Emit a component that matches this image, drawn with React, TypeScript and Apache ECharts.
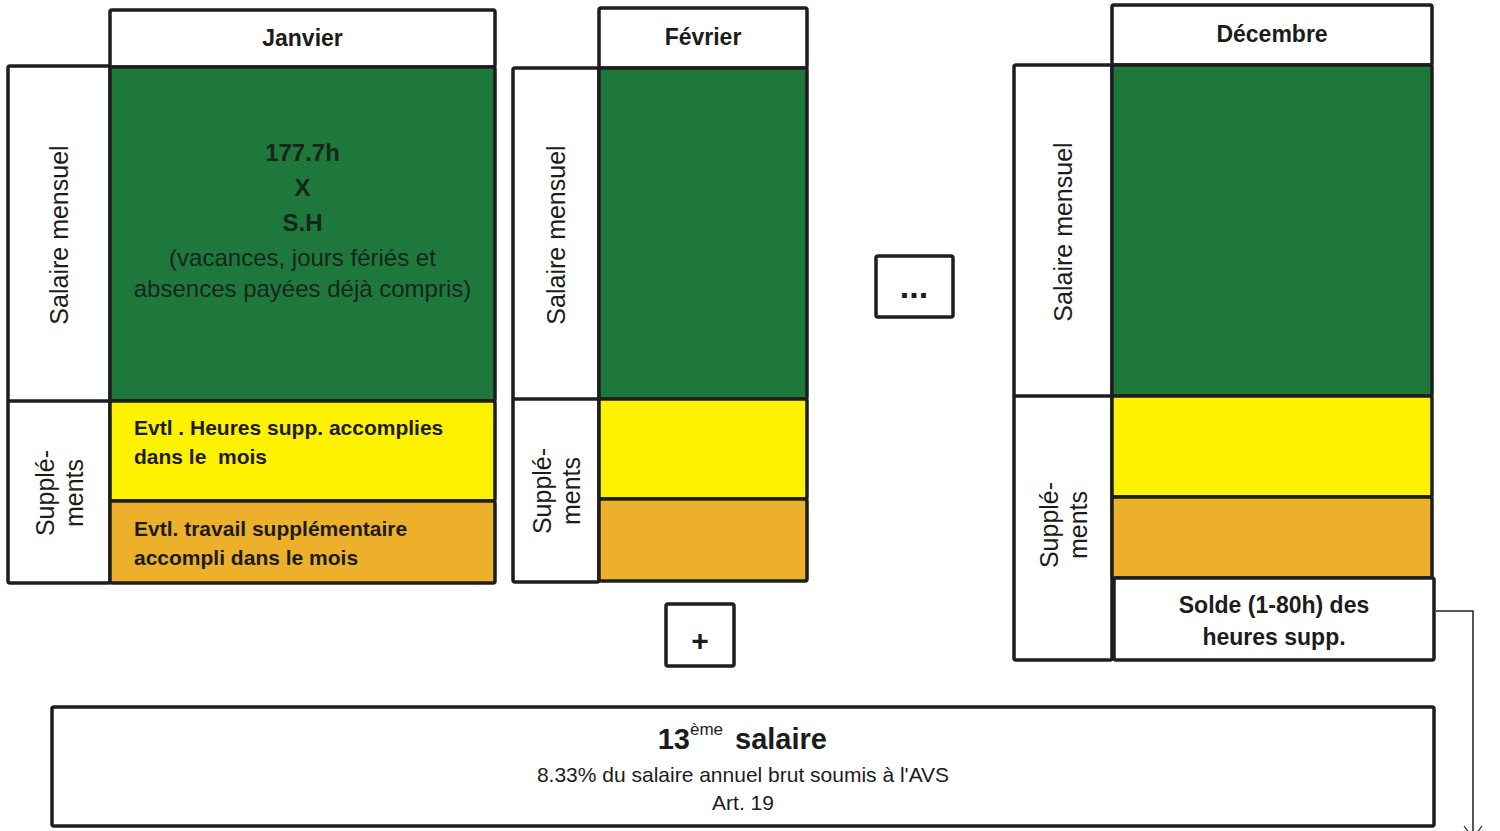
import React, { useEffect, useRef } from "react";
import * as echarts from "echarts";

// ---- Texts (content) ----
const months = ["Janvier", "Février", "Décembre"];
const rowLabels = ["Salaire mensuel", "Supplé-\nments"];
const greenLinesBold = ["177.7h", "X", "S.H"];
const greenLinesNormal = ["(vacances, jours fériés et", "absences payées déjà compris)"];
const yellowText = ["Evtl . Heures supp. accomplies", "dans le  mois"];
const orangeText = ["Evtl. travail supplémentaire", "accompli dans le mois"];
const soldeText = ["Solde (1-80h) des", "heures supp."];
const thirteenthTitle = ["13", "ème", "salaire"];
const thirteenthNotes = ["8.33% du salaire annuel brut soumis à l'AVS", "Art. 19"];
const ellipsisText = "...";
const plusText = "+";

// ---- Layout (positions / sizes) ----
type Block = {
  labelX0: number; labelX1: number; labelY0: number; labelY1: number; labelDiv: number;
  x0: number; x1: number; headY0: number; headY1: number;
  greenY1: number; yellowY1: number; orangeY1: number; soldeY1?: number;
  salaireY: number; suppY: number;
};
const blocks: Block[] = [
  { labelX0: 8, labelX1: 110, labelY0: 66, labelY1: 583, labelDiv: 401, x0: 110, x1: 495, headY0: 10, headY1: 67, greenY1: 401, yellowY1: 501, orangeY1: 583, salaireY: 235, suppY: 493 },
  { labelX0: 513, labelX1: 599, labelY0: 68, labelY1: 582, labelDiv: 399, x0: 599, x1: 807, headY0: 8, headY1: 68, greenY1: 399, yellowY1: 499, orangeY1: 581, salaireY: 235, suppY: 491 },
  { labelX0: 1014, labelX1: 1112, labelY0: 65, labelY1: 660, labelDiv: 396, x0: 1112, x1: 1432, headY0: 5, headY1: 65, greenY1: 396, yellowY1: 497, orangeY1: 578, soldeY1: 660, salaireY: 232, suppY: 525 },
];

const C = {
  stroke: "#1e1e1e",
  green: "#1e783c",
  yellow: "#fff200",
  orange: "#edb02b",
  text: "#1c1c1c",
  greenText: "#17261a",
};
const FONT = "'Liberation Sans', Arial, Helvetica, sans-serif";
const LW = 3.5;

function rect(x0: number, y0: number, x1: number, y1: number, fill: string, z = 1) {
  return {
    type: "rect",
    z,
    shape: { x: x0, y: y0, width: x1 - x0, height: y1 - y0, r: 2 },
    style: { fill, stroke: C.stroke, lineWidth: LW },
  };
}

function text(t: string, x: number, y: number, size: number, weight: string, fill: string, align = "center", extra: any = {}, lineHeight?: number) {
  return {
    type: "text",
    z: 10,
    x,
    y,
    ...extra,
    style: {
      text: t,
      x: 0,
      y: 0,
      font: `${weight} ${size}px ${FONT}`,
      fill,
      align,
      textAlign: align,
      verticalAlign: "middle",
      textVerticalAlign: "middle",
      lineHeight: lineHeight || Math.round(size * 1.2),
    },
  };
}

function buildElements() {
  const els: any[] = [];
  blocks.forEach((b, i) => {
    // label column
    els.push(rect(b.labelX0, b.labelY0, b.labelX1, b.labelY1, "#ffffff"));
    els.push({
      type: "line", z: 3,
      shape: { x1: b.labelX0, y1: b.labelDiv, x2: b.labelX1, y2: b.labelDiv },
      style: { stroke: C.stroke, lineWidth: LW },
    });
    // header
    els.push(rect(b.x0, b.headY0, b.x1, b.headY1, "#ffffff", 2));
    els.push(text(months[i], (b.x0 + b.x1) / 2, (b.headY0 + b.headY1) / 2 - 1, 23, "bold", C.text));
    // stacked cells
    els.push(rect(b.x0, b.headY1, b.x1, b.greenY1, C.green, 2));
    els.push(rect(b.x0, b.greenY1, b.x1, b.yellowY1, C.yellow, 2));
    els.push(rect(b.x0, b.yellowY1, b.x1, b.orangeY1, C.orange, 2));
    if (b.soldeY1) {
      els.push(rect(b.x0 + 2, b.orangeY1, b.x1 + 2, b.soldeY1, "#ffffff", 2));
      const cx = (b.x0 + b.x1) / 2 + 2;
      els.push(text(soldeText[0], cx, 605, 23, "bold", C.text));
      els.push(text(soldeText[1], cx, 637, 23, "bold", C.text));
    }
    // rotated labels
    const lx = (b.labelX0 + b.labelX1) / 2;
    els.push(text(rowLabels[0], lx, b.salaireY, 25, "normal", C.text, "center", { rotation: Math.PI / 2 }));
    els.push(text(rowLabels[1], lx, b.suppY, 25, "normal", C.text, "center", { rotation: Math.PI / 2 }, 29));
  });

  // Janvier contents
  const jb = blocks[0];
  const jcx = (jb.x0 + jb.x1) / 2;
  const boldYs = [152, 187, 222];
  greenLinesBold.forEach((t, k) => els.push(text(t, jcx, boldYs[k], 24, "bold", C.greenText)));
  const normYs = [257, 288];
  greenLinesNormal.forEach((t, k) => els.push(text(t, jcx, normYs[k], 24, "normal", C.greenText)));
  const yYs = [427, 456];
  yellowText.forEach((t, k) => els.push(text(t, 134, yYs[k], 21, "bold", C.text, "left")));
  const oYs = [528, 557];
  orangeText.forEach((t, k) => els.push(text(t, 134, oYs[k], 21, "bold", C.text, "left")));

  // ellipsis box
  els.push(rect(876, 256, 953, 317, "#ffffff"));
  els.push(text(ellipsisText, 914, 286, 34, "bold", C.text));
  // plus box
  els.push(rect(666, 604, 734, 666, "#ffffff"));
  els.push(text(plusText, 700, 640, 30, "bold", C.text));

  // 13th salary box
  els.push(rect(52, 707, 1434, 826, "#ffffff"));
  els.push(text(thirteenthTitle[0], 690, 739, 29, "bold", C.text, "right"));
  els.push(text(thirteenthTitle[1], 690, 729, 17, "normal", C.text, "left"));
  els.push(text(thirteenthTitle[2], 735, 739, 29, "bold", C.text, "left"));
  els.push(text(thirteenthNotes[0], 743, 774, 21, "normal", C.text));
  els.push(text(thirteenthNotes[1], 743, 802, 21, "normal", C.text));

  // connector from Solde to bottom
  els.push({
    type: "polyline", z: 5,
    shape: { points: [[1436, 611], [1473, 611], [1473, 840]] },
    style: { stroke: "#222", lineWidth: 1.5, fill: null },
  });
  els.push({
    type: "polyline", z: 5,
    shape: { points: [[1464, 826], [1473, 838], [1482, 826]] },
    style: { stroke: "#222", lineWidth: 1.2, fill: null },
  });
  return els;
}

export default function App() {
  const ref = useRef<HTMLDivElement>(null);
  useEffect(() => {
    document.body.style.margin = "0";
    if (!ref.current) return;
    const chart = echarts.init(ref.current, undefined, { renderer: "svg" });
    chart.setOption({
      animation: false,
      backgroundColor: "#ffffff",
      graphic: { elements: buildElements() },
    });
    return () => chart.dispose();
  }, []);
  return <div ref={ref} style={{ width: 1500, height: 831 }} />;
}
